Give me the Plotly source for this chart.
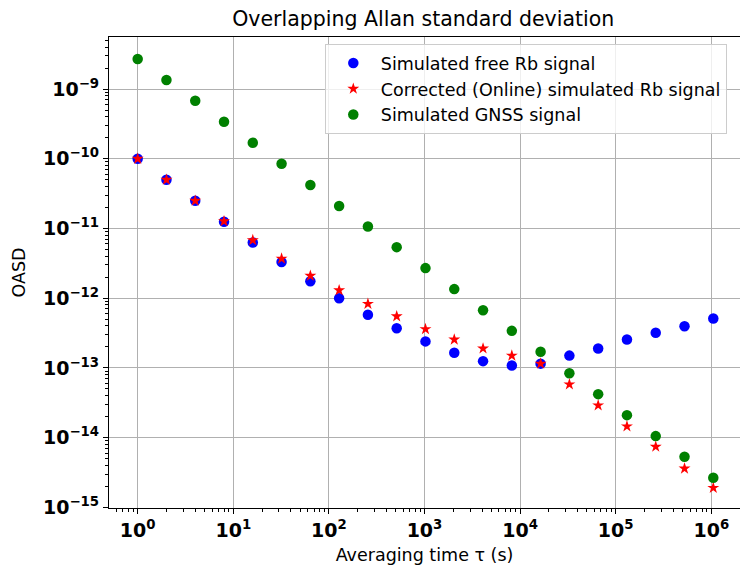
import plotly.graph_objects as go

tau = [1, 2, 4, 8, 16, 32, 64, 128, 256, 512, 1024, 2048, 4096, 8192,
       16384, 32768, 65536, 131072, 262144, 524288, 1048576]

free_rb = [1.0e-10, 5.0e-11, 2.5e-11, 1.25e-11, 6.3e-12, 3.3e-12, 1.75e-12,
           1.0e-12, 5.8e-13, 3.7e-13, 2.4e-13, 1.65e-13, 1.25e-13, 1.08e-13,
           1.15e-13, 1.5e-13, 1.9e-13, 2.55e-13, 3.2e-13, 3.95e-13, 5.1e-13]

corrected_rb = [1.0e-10, 5.0e-11, 2.5e-11, 1.27e-11, 6.8e-12, 3.7e-12, 2.1e-12,
                1.3e-12, 8.3e-13, 5.5e-13, 3.6e-13, 2.55e-13, 1.9e-13, 1.5e-13,
                1.15e-13, 5.8e-14, 2.9e-14, 1.45e-14, 7.4e-15, 3.6e-15, 1.9e-15]

gnss = [2.7e-9, 1.35e-9, 6.8e-10, 3.4e-10, 1.7e-10, 8.5e-11, 4.2e-11,
        2.1e-11, 1.07e-11, 5.4e-12, 2.7e-12, 1.35e-12, 6.7e-13, 3.4e-13,
        1.7e-13, 8.4e-14, 4.2e-14, 2.1e-14, 1.05e-14, 5.3e-15, 2.65e-15]

x_tickvals = [1e0, 1e1, 1e2, 1e3, 1e4, 1e5, 1e6]
x_ticktext = ["<b>10<sup>%d</sup></b>" % i for i in range(7)]
y_tickvals = [1e-9, 1e-10, 1e-11, 1e-12, 1e-13, 1e-14, 1e-15]
y_ticktext = ["<b>10<sup>\u2212%d</sup></b>" % i for i in range(9, 16)]

FONT = "DejaVu Sans"

fig = go.Figure()
fig.add_trace(go.Scatter(x=tau, y=free_rb, mode="markers", name="Simulated free Rb signal",
                         marker=dict(color="blue", size=10.5, symbol="circle", line=dict(width=0))))
fig.add_trace(go.Scatter(x=tau, y=corrected_rb, mode="markers",
                         name="Corrected (Online) simulated Rb signal",
                         marker=dict(color="red", size=9, symbol="star", line=dict(width=0))))
fig.add_trace(go.Scatter(x=tau, y=gnss, mode="markers", name="Simulated GNSS signal",
                         marker=dict(color="green", size=10.5, symbol="circle", line=dict(width=0))))

fig.update_layout(
    width=740, height=567,
    margin=dict(l=109, r=0, t=37, b=59),
    paper_bgcolor="white", plot_bgcolor="white",
    font=dict(family=FONT, color="black", size=14),
    title=dict(text="Overlapping Allan standard deviation", x=0.498, xref="paper",
               y=1 - 19 / 567, yref="container", yanchor="middle", xanchor="center",
               font=dict(size=20.5, family=FONT)),
    showlegend=True,
    legend=dict(x=0.342, y=0.985, xanchor="left", yanchor="top",
                bgcolor="rgba(255,255,255,0.8)", bordercolor="#cccccc", borderwidth=1,
                font=dict(size=17.5, family=FONT), itemwidth=45),
)

fig.update_xaxes(
    type="log", range=[-0.30, 6.30],
    tickvals=x_tickvals, ticktext=x_ticktext, tickfont=dict(size=19, family=FONT),
    showgrid=True, gridcolor="#b0b0b0", gridwidth=1,
    showline=True, linecolor="black", linewidth=1.2, mirror=True,
    ticks="outside", ticklen=5, tickcolor="black",
    minor=dict(ticks="outside", ticklen=3, tickcolor="black", dtick="D1", showgrid=False),
    zeroline=False,
    title=dict(text="Averaging time \u03c4 (s)", font=dict(size=17.5, family=FONT), standoff=8),
)
fig.update_yaxes(
    type="log", range=[-15.01, -8.253],
    tickvals=y_tickvals, ticktext=y_ticktext, tickfont=dict(size=19, family=FONT),
    showgrid=True, gridcolor="#b0b0b0", gridwidth=1,
    showline=True, linecolor="black", linewidth=1.2, mirror=False,
    ticks="outside", ticklen=5, tickcolor="black",
    minor=dict(ticks="outside", ticklen=3, tickcolor="black", dtick="D1", showgrid=False),
    zeroline=False,
    title=dict(text="OASD", font=dict(size=17.5, family=FONT), standoff=12),
)

fig.write_html("out.html")
